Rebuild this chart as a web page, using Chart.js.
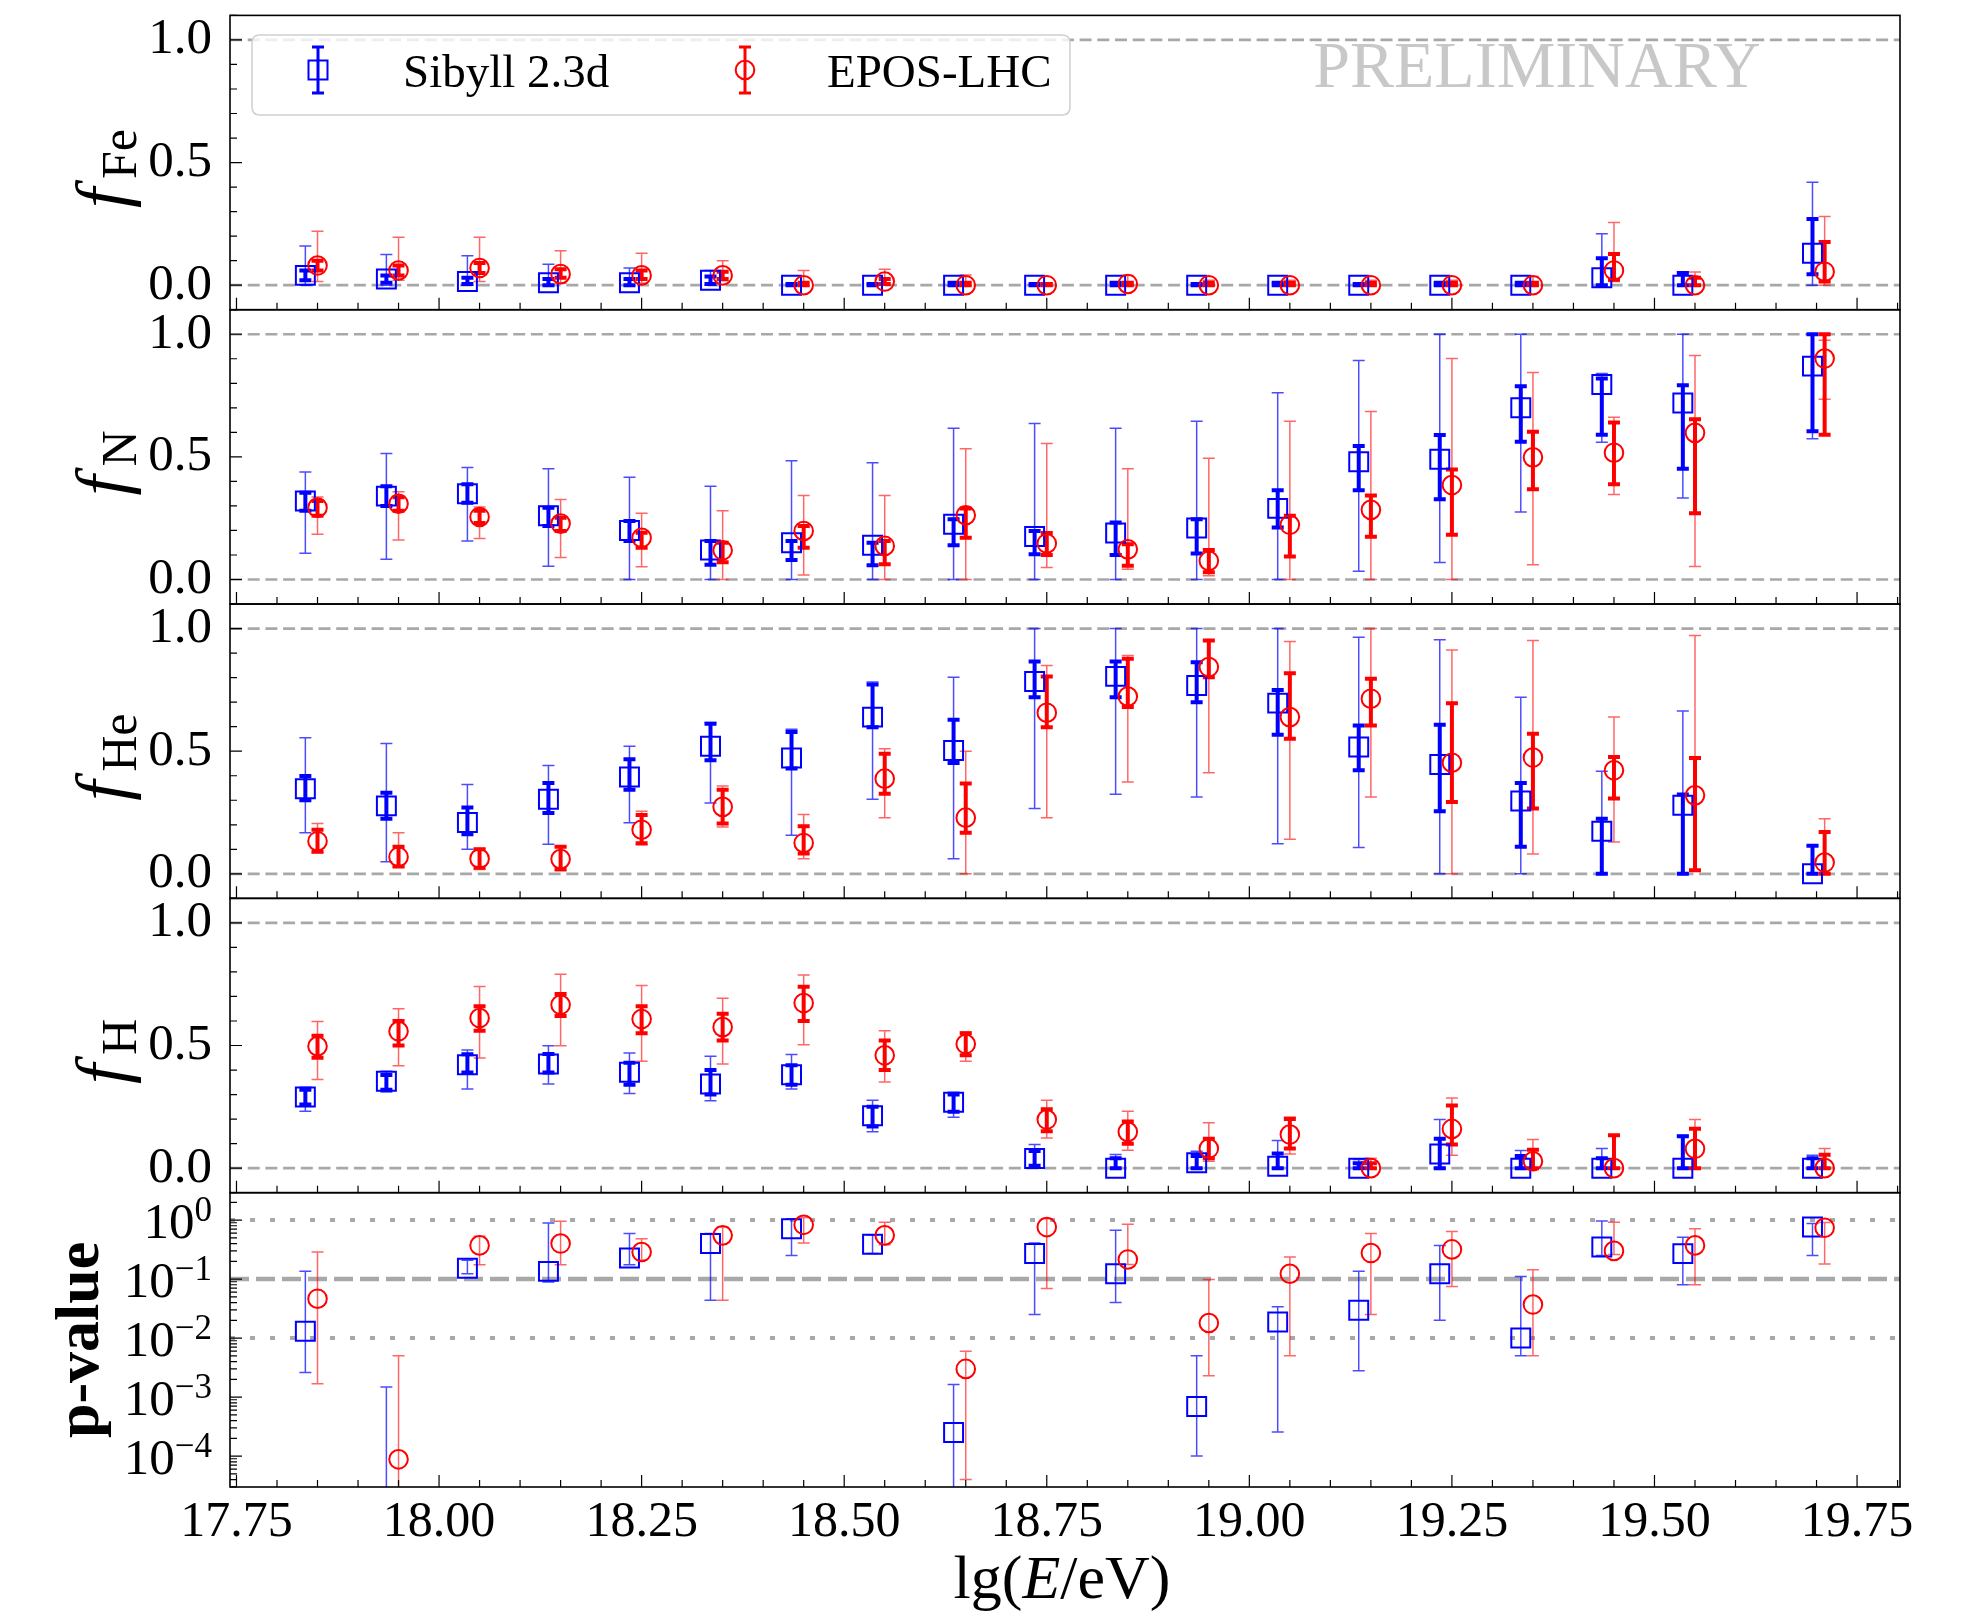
<!DOCTYPE html>
<html>
<head>
<meta charset="utf-8">
<script src="https://cdn.jsdelivr.net/npm/chart.js@4.4.0/dist/chart.umd.min.js"></script>
<style>
  html, body { margin: 0; padding: 0; background: #fff; }
  #wrap { width: 1962px; height: 1617px; position: relative; }
</style>
</head>
<body>
<div id="wrap"><canvas id="chart" width="1962" height="1617"></canvas></div>
<script>
// energy bins (lg(E/eV)), EPOS points are shifted slightly to the right
const energySibyll = [17.835, 17.935, 18.035, 18.135, 18.235, 18.335, 18.435, 18.535, 18.635, 18.735,
                      18.835, 18.935, 19.035, 19.135, 19.235, 19.335, 19.435, 19.535, 19.695];
const energyEpos   = [17.85, 17.95, 18.05, 18.15, 18.25, 18.35, 18.45, 18.55, 18.65, 18.75,
                      18.85, 18.95, 19.05, 19.15, 19.25, 19.35, 19.45, 19.55, 19.71];

const xTickLabels = [17.75, 18.00, 18.25, 18.50, 18.75, 19.00, 19.25, 19.50, 19.75];
const fracTicks = [0.0, 0.5, 1.0];
const fracRefLines = [0, 1];
const pTicks = [1, 0.1, 0.01, 0.001, 0.0001];
const pExponents = ['0', '\u22121', '\u22122', '\u22123', '\u22124'];
const pRefDotted = [1, 0.01];
const pRefDashed = [0.1];

// f_Fe
const feSibyll = [0.04, 0.025, 0.015, 0.01, 0.01, 0.02, 0, 0, 0, 0, 0, 0, 0, 0, 0, 0, 0.03, 0, 0.13];
const feSibyllThin = [[0,0.16],[0,0.125],[0,0.12],[0,0.085],[0,0.07],[0,0.06],[0,0.005],[0,0.005],[0,0.01],[0,0.005],
                      [0,0.01],[0,0.005],[0,0.01],[0,0.005],[0,0.01],[0,0.01],[0,0.21],[0,0.055],[0,0.42]];
const feSibyllThick = [[0.02,0.06],[0.01,0.04],[0.005,0.03],[0,0.025],[0,0.025],[0.005,0.035],[0,0.005],[0,0.005],[0,0.01],[0,0.005],
                       [0,0.01],[0,0.005],[0,0.01],[0,0.005],[0,0.01],[0,0.01],[0,0.11],[0,0.05],[0.045,0.27]];
const feEpos = [0.08, 0.06, 0.07, 0.045, 0.04, 0.04, 0, 0.015, 0, 0, 0.005, 0, 0, 0, 0, 0, 0.06, 0, 0.055];
const feEposThin = [[0.015,0.22],[0.02,0.195],[0.015,0.195],[0.008,0.14],[0.008,0.13],[0.018,0.1],[0,0.06],[0,0.065],[0,0.042],[0,0.01],
                    [0,0.04],[0,0.02],[0,0.02],[0,0.02],[0,0.02],[0,0.035],[0.015,0.256],[0,0.054],[0,0.28]];
const feEposThick = [[0.06,0.1],[0.04,0.08],[0.05,0.09],[0.03,0.065],[0.025,0.06],[0.025,0.055],[0,0.01],[0.005,0.025],[0,0.01],[0,0.005],
                     [0,0.01],[0,0.01],[0,0.01],[0,0.01],[0,0.01],[0,0.01],[0.022,0.127],[0,0.03],[0.015,0.176]];

// f_N
const nSibyll = [0.32, 0.34, 0.35, 0.26, 0.2, 0.12, 0.15, 0.14, 0.225, 0.175, 0.19, 0.21, 0.29, 0.48, 0.49, 0.7, 0.795, 0.72, 0.87];
const nSibyllThin = [[0.107,0.438],[0.083,0.514],[0.157,0.457],[0.054,0.452],[0,0.417],[0,0.38],[0,0.484],[0,0.476],[0,0.617],[0,0.636],
                     [0,0.617],[0,0.645],[0,0.761],[0.034,0.893],[0.069,1.0],[0.275,1.0],[0.56,0.84],[0.332,1.0],[0.574,1.0]];
const nSibyllThick = [[0.28,0.354],[0.3,0.38],[0.313,0.388],[0.218,0.293],[0.157,0.239],[0.06,0.157],[0.08,0.157],[0.058,0.15],[0.14,0.246],[0.103,0.198],
                      [0.1,0.232],[0.106,0.246],[0.212,0.364],[0.364,0.544],[0.327,0.589],[0.562,0.788],[0.59,0.82],[0.452,0.792],[0.605,1.0]];
const nEpos = [0.293, 0.309, 0.255, 0.228, 0.17, 0.119, 0.198, 0.137, 0.262, 0.147, 0.123, 0.076, 0.223, 0.284, 0.385, 0.498, 0.517, 0.598, 0.901];
const nEposThin = [[0.185,0.336],[0.161,0.358],[0.167,0.296],[0.09,0.326],[0.052,0.27],[0,0.28],[0.018,0.343],[0,0.343],[0,0.533],[0.049,0.555],
                   [0.042,0.452],[0.015,0.494],[0,0.645],[0,0.685],[0,0.901],[0.06,0.844],[0.347,0.662],[0.053,0.913],[0.735,0.976]];
const nEposThick = [[0.26,0.32],[0.28,0.335],[0.23,0.28],[0.198,0.252],[0.13,0.191],[0.07,0.15],[0.13,0.218],[0.062,0.157],[0.17,0.29],[0.1,0.19],
                    [0.056,0.144],[0.03,0.12],[0.094,0.26],[0.174,0.343],[0.182,0.449],[0.368,0.602],[0.388,0.64],[0.27,0.653],[0.59,1.0]];

// f_He
const heSibyll = [0.347, 0.277, 0.209, 0.304, 0.395, 0.52, 0.472, 0.639, 0.503, 0.784, 0.805, 0.768, 0.696, 0.517, 0.446, 0.297, 0.174, 0.28, 0.0];
const heSibyllThin = [[0.168,0.555],[0.049,0.531],[0.1,0.364],[0.121,0.442],[0.208,0.52],[0.289,0.617],[0.157,0.589],[0.304,0.782],[0.062,0.802],[0.266,1.0],
                      [0.324,1.0],[0.313,1.0],[0.123,1.0],[0.107,0.965],[0,0.954],[0,0.72],[0,0.418],[0,0.664],[0,0.114]];
const heSibyllThick = [[0.3,0.399],[0.225,0.331],[0.161,0.27],[0.248,0.37],[0.343,0.467],[0.463,0.612],[0.429,0.578],[0.598,0.772],[0.452,0.628],[0.72,0.866],
                       [0.72,0.866],[0.7,0.863],[0.567,0.75],[0.422,0.605],[0.255,0.608],[0.11,0.37],[0,0.225],[0,0.323],[0,0.114]];
const heEpos = [0.133, 0.069, 0.062, 0.06, 0.18, 0.273, 0.126, 0.388, 0.229, 0.657, 0.723, 0.843, 0.639, 0.714, 0.453, 0.474, 0.422, 0.32, 0.046];
const heEposThin = [[0.087,0.205],[0.028,0.168],[0.018,0.103],[0.012,0.11],[0.119,0.255],[0.191,0.358],[0.062,0.242],[0.229,0.51],[0,0.5],[0.229,0.849],
                    [0.374,0.89],[0.412,0.951],[0.141,0.947],[0.313,1.0],[0,0.913],[0.081,0.951],[0.13,0.639],[0.015,0.972],[0,0.225]];
const heEposThick = [[0.09,0.18],[0.03,0.11],[0.025,0.1],[0.02,0.11],[0.125,0.24],[0.205,0.343],[0.083,0.194],[0.327,0.49],[0.167,0.368],[0.598,0.805],
                     [0.68,0.877],[0.802,0.951],[0.551,0.818],[0.605,0.795],[0.293,0.696],[0.266,0.571],[0.307,0.476],[0.015,0.472],[0,0.171]];

// f_H
const hSibyll = [0.29, 0.354, 0.422, 0.425, 0.391, 0.343, 0.381, 0.214, 0.269, 0.039, 0.0, 0.022, 0.008, 0.0, 0.058, 0.0, 0.0, 0.0, 0.0];
const hSibyllThin = [[0.232,0.33],[0.311,0.395],[0.323,0.482],[0.343,0.499],[0.304,0.469],[0.275,0.456],[0.323,0.463],[0.148,0.277],[0.208,0.309],[0,0.096],
                     [0,0.056],[0,0.069],[0,0.113],[0,0.035],[0,0.198],[0,0.072],[0,0.08],[0,0.133],[0,0.053]];
const hSibyllThick = [[0.26,0.32],[0.32,0.38],[0.39,0.464],[0.39,0.465],[0.34,0.43],[0.3,0.4],[0.34,0.42],[0.17,0.25],[0.23,0.3],[0.01,0.07],
                      [0,0.04],[0,0.05],[0,0.06],[0,0.02],[0,0.12],[0,0.05],[0,0.04],[0,0.13],[0,0.04]];
const hEpos = [0.497, 0.558, 0.612, 0.666, 0.608, 0.575, 0.673, 0.46, 0.506, 0.198, 0.148, 0.08, 0.137, 0.0, 0.16, 0.028, 0.0, 0.079, 0.0];
const hEposThin = [[0.361,0.598],[0.418,0.65],[0.449,0.741],[0.499,0.791],[0.436,0.745],[0.425,0.693],[0.503,0.788],[0.351,0.56],[0.436,0.555],[0.123,0.277],
                   [0.073,0.232],[0.028,0.185],[0.058,0.209],[0,0.04],[0.053,0.286],[0,0.117],[0,0.134],[0,0.198],[0,0.08]];
const hEposThick = [[0.45,0.54],[0.5,0.6],[0.56,0.66],[0.62,0.71],[0.55,0.66],[0.52,0.63],[0.6,0.74],[0.4,0.52],[0.46,0.55],[0.15,0.24],
                    [0.1,0.19],[0.04,0.12],[0.08,0.2],[0,0.02],[0.096,0.255],[0,0.075],[0,0.134],[0,0.161],[0,0.055]];

// p-value
const pSibyll = [0.013, 1e-5, 0.153, 0.135, 0.227, 0.4, 0.71, 0.39, 2.5e-4, 0.272, 0.123, 6.9e-4, 0.0187, 0.0295, 0.123, 0.01, 0.35, 0.27, 0.76];
const pSibyllErr = [[0.0026,0.135],[1e-6,0.00148],[0.123,0.208],[0.089,0.89],[0.175,0.59],[0.0436,0.59],[0.25,1.05],[0.27,0.56],[1e-6,0.00164],[0.025,0.41],
                    [0.04,0.67],[1e-4,0.005],[2.55e-4,0.034],[0.0028,0.135],[0.02,0.372],[0.005,0.111],[0.25,0.96],[0.08,0.51],[0.25,0.87]];
const pEpos = [0.0465, 8.8e-5, 0.372, 0.4, 0.287, 0.55, 0.83, 0.55, 0.003, 0.76, 0.215, 0.018, 0.123, 0.276, 0.318, 0.037, 0.3, 0.372, 0.74];
const pEposErr = [[0.00168,0.287],[1e-6,0.005],[0.175,0.53],[0.175,0.95],[0.21,0.48],[0.0436,0.76],[0.41,1.1],[0.38,0.92],[4e-5,0.006],[0.069,1.05],
                  [0.177,0.85],[0.0023,0.098],[0.005,0.236],[0.025,0.59],[0.075,0.64],[0.005,0.144],[0.26,0.92],[0.08,0.71],[0.18,0.91]];

const SERIF = '"Liberation Serif", "DejaVu Serif", serif';
const BLUE = '#0000ff', RED = '#ff0000';
const BLUE_THIN = 'rgba(0,0,255,0.7)', RED_THIN = 'rgba(255,0,0,0.6)';
const GREY = '#a8a8a8';

const panelDefs = [
  { id: 'yFe', sub: 'Fe', weight: 5, sib: feSibyll, sibThin: feSibyllThin, sibThick: feSibyllThick, epos: feEpos, eposThin: feEposThin, eposThick: feEposThick },
  { id: 'yN',  sub: 'N',  weight: 4, sib: nSibyll,  sibThin: nSibyllThin,  sibThick: nSibyllThick,  epos: nEpos,  eposThin: nEposThin,  eposThick: nEposThick },
  { id: 'yHe', sub: 'He', weight: 3, sib: heSibyll, sibThin: heSibyllThin, sibThick: heSibyllThick, epos: heEpos, eposThin: heEposThin, eposThick: heEposThick },
  { id: 'yH',  sub: 'H',  weight: 2, sib: hSibyll,  sibThin: hSibyllThin,  sibThick: hSibyllThick,  epos: hEpos,  eposThin: hEposThin,  eposThick: hEposThick },
  { id: 'yP',  log: true, weight: 1, sib: pSibyll,  sibThin: pSibyllErr,   epos: pEpos,  eposThin: pEposErr }
];

// datasets: markers only, error bars come from the plugin below
const datasets = [];
panelDefs.forEach(p => {
  datasets.push({
    label: 'EPOS-LHC', yAxisID: p.id,
    data: p.epos.map((v, i) => ({ x: energyEpos[i], y: v })),
    pointStyle: 'circle', pointRadius: 9.3, pointBorderWidth: 2,
    pointBorderColor: RED, pointBackgroundColor: 'rgba(0,0,0,0)', showLine: false
  });
  datasets.push({
    label: 'Sibyll 2.3d', yAxisID: p.id,
    data: p.sib.map((v, i) => ({ x: energySibyll[i], y: v })),
    pointStyle: 'rect', pointRadius: 13.4, pointBorderWidth: 2,
    pointBorderColor: BLUE, pointBackgroundColor: 'rgba(0,0,0,0)', showLine: false
  });
});

function noPad(s) {
  s.paddingTop = 0; s.paddingBottom = 0; s.paddingLeft = 0; s.paddingRight = 0;
}

const scales = {
  x: {
    type: 'linear', position: 'bottom', min: 17.742, max: 19.803,
    grid: { display: false, drawTicks: false }, border: { display: false },
    ticks: { font: { family: SERIF, size: 50 }, color: '#000', padding: 6, autoSkip: false, maxRotation: 0, minRotation: 0,
             callback: v => v.toFixed(2) },
    afterBuildTicks: s => { s.ticks = xTickLabels.map(v => ({ value: v })); },
    afterFit: s => { s.height = 130; noPad(s); }
  }
};
panelDefs.forEach(p => {
  if (p.log) {
    scales[p.id] = {
      type: 'logarithmic', position: 'left', stack: 'panels', weight: p.weight, min: 2.99e-5, max: 2.91,
      grid: { display: false, drawTicks: false }, border: { display: false },
      ticks: { display: false },
      afterBuildTicks: s => { s.ticks = pTicks.map(v => ({ value: v })); },
      afterFit: s => { s.width = 230; noPad(s); }
    };
  } else {
    scales[p.id] = {
      type: 'linear', position: 'left', stack: 'panels', weight: p.weight, min: -0.1, max: 1.1,
      grid: { display: false, drawTicks: false }, border: { display: false },
      ticks: { font: { family: SERIF, size: 51 }, color: '#000', padding: 18, callback: v => v.toFixed(1) },
      afterBuildTicks: s => { s.ticks = fracTicks.map(v => ({ value: v })); },
      afterFit: s => { s.width = 230; noPad(s); }
    };
  }
});

function hline(ctx, area, y, color, width, dash) {
  ctx.save();
  ctx.strokeStyle = color; ctx.lineWidth = width; ctx.setLineDash(dash);
  ctx.beginPath(); ctx.moveTo(area.left, y); ctx.lineTo(area.right, y); ctx.stroke();
  ctx.restore();
}

function drawBars(ctx, xs, ys, xvals, bars, color, width, cap) {
  ctx.save();
  ctx.strokeStyle = color; ctx.lineWidth = width; ctx.setLineDash([]);
  bars.forEach((b, i) => {
    const x = xs.getPixelForValue(xvals[i]);
    const y0 = ys.getPixelForValue(b[0]);
    const y1 = ys.getPixelForValue(b[1]);
    ctx.beginPath();
    ctx.moveTo(x, y0); ctx.lineTo(x, y1);
    ctx.moveTo(x - cap, y0); ctx.lineTo(x + cap, y0);
    ctx.moveTo(x - cap, y1); ctx.lineTo(x + cap, y1);
    ctx.stroke();
  });
  ctx.restore();
}

function drawFracTitle(ctx, sub, cy) {
  ctx.save();
  ctx.translate(126, cy);
  ctx.rotate(-Math.PI / 2);
  ctx.fillStyle = '#000';
  ctx.textBaseline = 'alphabetic';
  ctx.font = 'italic 72px ' + SERIF;
  const fw = ctx.measureText('f').width + 9;
  ctx.font = '50px ' + SERIF;
  const sw = ctx.measureText(sub).width;
  const x0 = -(fw + sw) / 2;
  ctx.font = 'italic 72px ' + SERIF;
  ctx.fillText('f', x0, 0);
  ctx.font = '50px ' + SERIF;
  ctx.fillText(sub, x0 + fw, 10);
  ctx.restore();
}

function legendEntry(ctx, x, shape, color, text, tx) {
  ctx.save();
  ctx.strokeStyle = color; ctx.lineWidth = 3;
  ctx.beginPath();
  ctx.moveTo(x, 47); ctx.lineTo(x, 93);
  ctx.moveTo(x - 6, 47); ctx.lineTo(x + 6, 47);
  ctx.moveTo(x - 6, 93); ctx.lineTo(x + 6, 93);
  ctx.stroke();
  ctx.lineWidth = 2;
  ctx.beginPath();
  if (shape === 'rect') ctx.rect(x - 9.5, 60.5, 19, 19);
  else ctx.arc(x, 70, 9.3, 0, Math.PI * 2);
  ctx.stroke();
  ctx.fillStyle = '#000';
  ctx.font = '47px ' + SERIF;
  ctx.textAlign = 'left'; ctx.textBaseline = 'alphabetic';
  ctx.fillText(text, tx, 87);
  ctx.restore();
}

const decorPlugin = {
  id: 'decor',
  beforeDatasetsDraw(chart) {
    const ctx = chart.ctx, area = chart.chartArea, xs = chart.scales.x;
    panelDefs.forEach(p => {
      const ys = chart.scales[p.id];
      ctx.save();
      ctx.beginPath();
      ctx.rect(area.left, ys.top, area.right - area.left, ys.bottom - ys.top);
      ctx.clip();
      if (p.log) {
        pRefDotted.forEach(v => hline(ctx, area, ys.getPixelForValue(v), GREY, 4, [5, 15]));
        pRefDashed.forEach(v => hline(ctx, area, ys.getPixelForValue(v), GREY, 4.5, [19, 7]));
      } else {
        fracRefLines.forEach(v => hline(ctx, area, ys.getPixelForValue(v), GREY, 2.7, [12, 5.7]));
      }
      drawBars(ctx, xs, ys, energySibyll, p.sibThin, BLUE_THIN, 1.5, 6);
      if (p.sibThick) drawBars(ctx, xs, ys, energySibyll, p.sibThick, BLUE, 4, 6);
      drawBars(ctx, xs, ys, energyEpos, p.eposThin, RED_THIN, 1.5, 6);
      if (p.eposThick) drawBars(ctx, xs, ys, energyEpos, p.eposThick, RED, 4, 6);
      ctx.restore();
    });
  },
  afterDraw(chart) {
    const ctx = chart.ctx, area = chart.chartArea, xs = chart.scales.x;
    ctx.save();
    panelDefs.forEach(p => {
      const ys = chart.scales[p.id];
      const top = ys.top, bottom = ys.bottom;
      ctx.strokeStyle = '#000'; ctx.lineWidth = 1.2; ctx.setLineDash([]);
      ctx.beginPath();
      // x ticks, pointing inward at the bottom of every panel
      for (let k = 0; ; k++) {
        const v = 17.75 + 0.05 * k;
        if (v > xs.max) break;
        const px = xs.getPixelForValue(v);
        const len = k % 5 === 0 ? 12 : 7;
        ctx.moveTo(px, bottom); ctx.lineTo(px, bottom - len);
      }
      // y ticks on the left
      if (p.log) {
        for (let n = -5; n <= 0; n++) {
          for (let m = 1; m <= 9; m++) {
            const v = m * Math.pow(10, n);
            if (v < ys.min || v > ys.max) continue;
            const py = ys.getPixelForValue(v);
            ctx.moveTo(area.left, py); ctx.lineTo(area.left + (m === 1 ? 12 : 7), py);
          }
        }
      } else {
        for (let k = -1; k <= 11; k++) {
          const py = ys.getPixelForValue(k / 10);
          ctx.moveTo(area.left, py); ctx.lineTo(area.left + (k % 5 === 0 ? 12 : 7), py);
        }
      }
      ctx.stroke();
      ctx.lineWidth = 1.6;
      ctx.strokeRect(area.left, top, area.right - area.left, bottom - top);

      if (p.log) {
        // 10^n labels
        ctx.fillStyle = '#000';
        ctx.textAlign = 'left'; ctx.textBaseline = 'alphabetic';
        pTicks.forEach((v, j) => {
          const py = ys.getPixelForValue(v);
          ctx.font = '51px ' + SERIF;
          const w10 = ctx.measureText('10').width;
          ctx.font = '35px ' + SERIF;
          const we = ctx.measureText(pExponents[j]).width;
          const x0 = area.left - 18 - w10 - we;
          ctx.font = '51px ' + SERIF;
          ctx.fillText('10', x0, py + 18);
          ctx.font = '35px ' + SERIF;
          ctx.fillText(pExponents[j], x0 + w10, py + 1);
        });
        ctx.save();
        ctx.translate(98, (top + bottom) / 2);
        ctx.rotate(-Math.PI / 2);
        ctx.font = 'bold 62px ' + SERIF;
        ctx.textAlign = 'center';
        ctx.fillText('p-value', 0, 0);
        ctx.restore();
      } else {
        drawFracTitle(ctx, p.sub, (top + bottom) / 2 + 6);
      }
    });

    // x axis title: lg(E/eV)
    ctx.fillStyle = '#000'; ctx.textBaseline = 'alphabetic'; ctx.textAlign = 'left';
    const parts = [['lg(', ''], ['E', 'italic '], ['/eV)', '']];
    let total = 0;
    parts.forEach(pt => { ctx.font = pt[1] + '62px ' + SERIF; total += ctx.measureText(pt[0]).width; });
    let tx = 1062 - total / 2;
    parts.forEach(pt => {
      ctx.font = pt[1] + '62px ' + SERIF;
      ctx.fillText(pt[0], tx, 1598);
      tx += ctx.measureText(pt[0]).width;
    });

    // PRELIMINARY stamp
    ctx.fillStyle = '#c8c8c8';
    ctx.font = '66px ' + SERIF;
    ctx.textAlign = 'center';
    ctx.fillText('PRELIMINARY', 1537, 87);

    // legend box
    const lx = 252, ly = 35, lw = 818, lh = 80, r = 8;
    ctx.beginPath();
    ctx.moveTo(lx + r, ly);
    ctx.lineTo(lx + lw - r, ly); ctx.quadraticCurveTo(lx + lw, ly, lx + lw, ly + r);
    ctx.lineTo(lx + lw, ly + lh - r); ctx.quadraticCurveTo(lx + lw, ly + lh, lx + lw - r, ly + lh);
    ctx.lineTo(lx + r, ly + lh); ctx.quadraticCurveTo(lx, ly + lh, lx, ly + lh - r);
    ctx.lineTo(lx, ly + r); ctx.quadraticCurveTo(lx, ly, lx + r, ly);
    ctx.closePath();
    ctx.fillStyle = 'rgba(255,255,255,0.8)';
    ctx.fill();
    ctx.strokeStyle = '#d0d0d0'; ctx.lineWidth = 1.5;
    ctx.stroke();
    legendEntry(ctx, 318, 'rect', BLUE, 'Sibyll 2.3d', 403);
    legendEntry(ctx, 745, 'circle', RED, 'EPOS-LHC', 827);
    ctx.restore();
  }
};

new Chart(document.getElementById('chart'), {
  type: 'scatter',
  data: { datasets: datasets },
  options: {
    responsive: false,
    animation: false,
    events: [],
    layout: { padding: { top: 12, right: 62, bottom: 0, left: 0 } },
    plugins: { legend: { display: false }, tooltip: { enabled: false } },
    scales: scales
  },
  plugins: [decorPlugin]
});
</script>
</body>
</html>
